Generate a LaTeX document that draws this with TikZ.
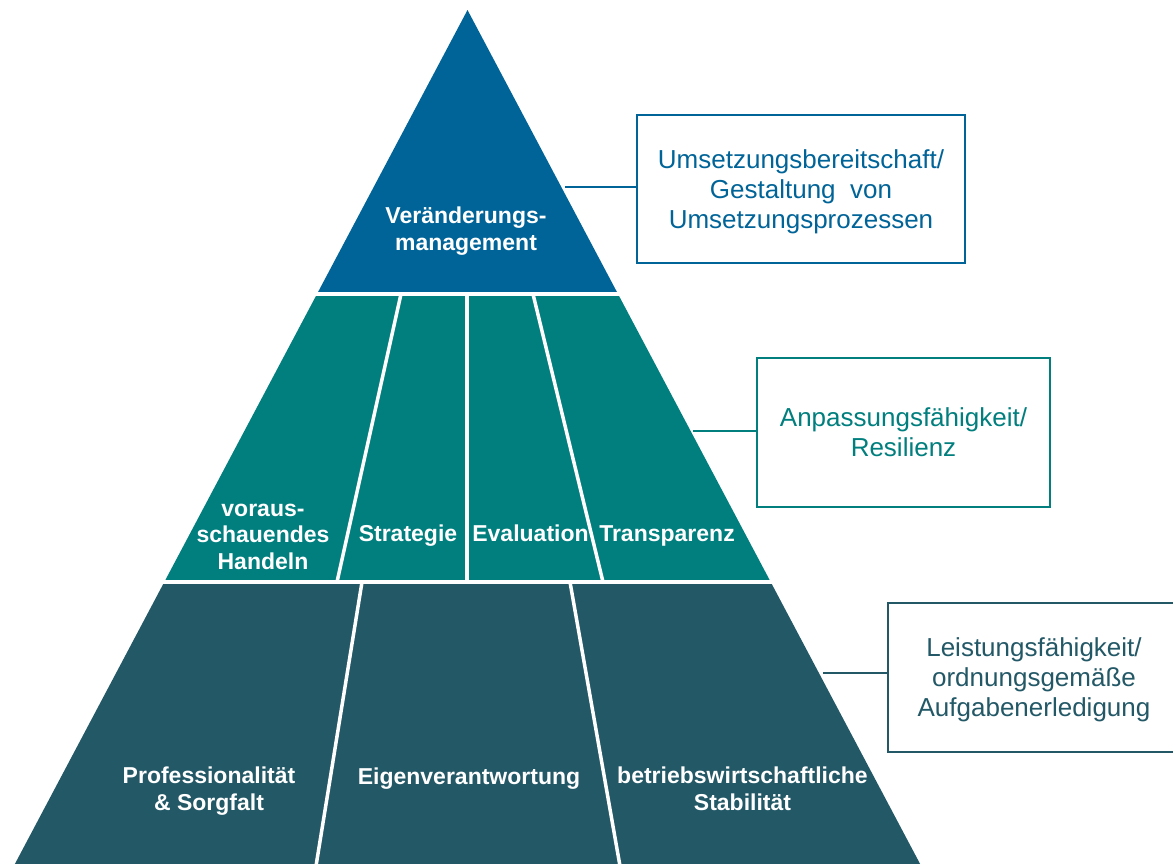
\documentclass[tikz,border=0pt]{standalone}
\usepackage{fontspec}
\setmainfont{Liberation Sans}
\definecolor{topblue}{RGB}{0,100,152}
\definecolor{midteal}{RGB}{0,127,126}
\definecolor{basedark}{RGB}{35,88,103}
\begin{document}
\begin{tikzpicture}[x=1pt,y=-1pt,
  gap/.style={white,line width=4pt},
  divider/.style={white,line width=3.5pt},
  % multi-line labels are anchored on the baseline of their last line
  tierlabel/.style={text=white,font=\bfseries\fontsize{23}{26.5}\selectfont,
    align=center,anchor=base,inner sep=0pt},
  infobox/.style={draw=#1,text=#1,line width=2.6pt,fill=white,
    font=\fontsize{26}{30}\selectfont,align=center,inner sep=0pt,
    text depth=0pt},
  link/.style={draw=#1,line width=2.6pt}]
\clip (0,0) rectangle (1173,863);
\fill[white] (0,0) rectangle (1173,863);

% the three tiers of the pyramid
\fill[topblue]  (467.5,10) -- (618,294) -- (317,294) -- cycle;
\fill[midteal]  (317,294) -- (618,294) -- (770.7,582) -- (164.3,582) -- cycle;
\fill[basedark] (164.3,582) -- (770.7,582) -- (921.2,866) -- (13.8,866) -- cycle;

% white gaps between tiers
\draw[gap] (300,294) -- (640,294);
\draw[gap] (150,582) -- (790,582);

% dividers of the middle tier
\draw[divider] (401,294) -- (337,582);
\draw[divider] (467,294) -- (467,582);
\draw[divider] (533,294) -- (603,582);
% dividers of the base tier
\draw[divider] (362,582) -- (316,866);
\draw[divider] (570,582) -- (620,866);

% tier labels
\node[tierlabel] (veraend) at (466,250) {Veränderungs-\\management};
\node[tierlabel] (vorausch) at (263,569) {voraus-\\schauendes\\Handeln};
\node[tierlabel] (strat) at (408,541) {Strategie};
\node[tierlabel] (eval) at (530.5,541) {Evaluation};
\node[tierlabel] (transp) at (667,541) {Transparenz};
\node[tierlabel] (prof) at (209,810) {Professionalität\\\& Sorgfalt};
\node[tierlabel] (eigen) at (469,784) {Eigenverantwortung};
\node[tierlabel] (betr) at (742.5,810) {betriebswirtschaftliche\\Stabilität};

% side boxes
\node[infobox=topblue,minimum width=328,minimum height=148] (b1) at (801,189)
  {Umsetzungsbereitschaft/\\Gestaltung~~von\\Umsetzungsprozessen};
\node[infobox=midteal,minimum width=293,minimum height=149] (b2) at (903.5,432.5)
  {Anpassungsfähigkeit/\\Resilienz};
\node[infobox=basedark,minimum width=292,minimum height=149] (b3) at (1034,677.5)
  {Leistungsfähigkeit/\\ordnungsgemäße\\Aufgabenerledigung};

% connectors from the pyramid to the boxes
\coordinate (c1) at (565,187);
\coordinate (c2) at (693,431);
\coordinate (c3) at (823,673);
\draw[link=topblue]  (c1) -- (c1 -| b1.west);
\draw[link=midteal]  (c2) -- (c2 -| b2.west);
\draw[link=basedark] (c3) -- (c3 -| b3.west);
\end{tikzpicture}
\end{document}
